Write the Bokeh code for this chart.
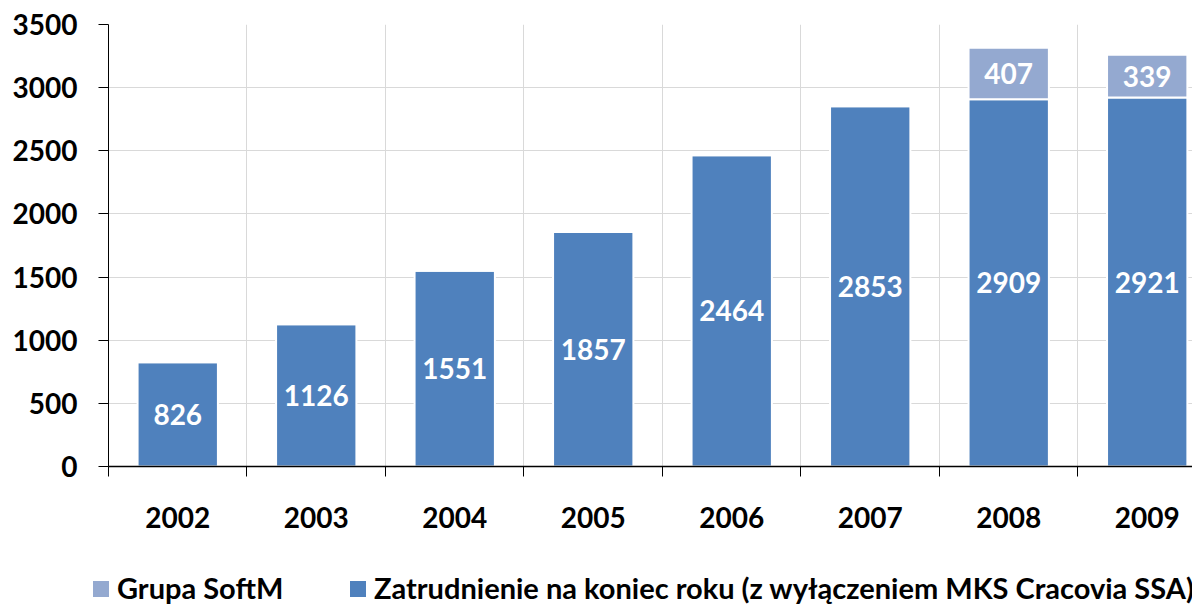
from bokeh.plotting import figure
from bokeh.layouts import column
from bokeh.models import Range1d, FixedTicker, ColumnDataSource, Div
from bokeh.core.properties import value
from bokeh.embed import file_html
from bokeh.resources import INLINE

years = ["2002", "2003", "2004", "2005", "2006", "2007", "2008", "2009"]
zatrudnienie = [826, 1126, 1551, 1857, 2464, 2853, 2909, 2921]
softm = [0, 0, 0, 0, 0, 0, 407, 339]
y_ticks = [0, 500, 1000, 1500, 2000, 2500, 3000, 3500]
legend_labels = ["Grupa SoftM", "Zatrudnienie na koniec roku (z wyłączeniem MKS Cracovia SSA)"]

DARK = "#4F81BD"
LIGHT = "#94A9D0"
FONT = "Lato"
FS = "28px"

xc = [i + 0.5 for i in range(len(years))]
top_dark = zatrudnienie
top_light = [a + b for a, b in zip(zatrudnienie, softm)]

src = ColumnDataSource(dict(
    x=xc, dark=top_dark, light=top_light, softm=softm,
    mid_dark=[v / 2 for v in zatrudnienie],
    mid_light=[a + b / 2 for a, b in zip(zatrudnienie, softm)],
    lab_dark=[str(v) for v in zatrudnienie],
    lab_light=[str(v) if v else "" for v in softm],
))

p = figure(width=1192, height=536, output_backend="svg", toolbar_location=None,
           x_range=Range1d(0, 7.827), y_range=Range1d(0, 3500),
           min_border_left=108, min_border_right=0, min_border_top=24, min_border_bottom=70)
p.outline_line_color = None
p.background_fill_color = "white"

r_dark = p.vbar(x="x", bottom=0, top="dark", width=0.58, source=src,
                fill_color=DARK, line_color="white", line_width=2)
r_light = p.vbar(x="x", bottom="dark", top="light", width=0.58, source=src,
                 fill_color=LIGHT, line_color="white", line_width=2)

p.text(x="x", y="mid_dark", text="lab_dark", source=src, text_color="white",
       text_font=value(FONT), text_font_style="bold", text_font_size=FS,
       text_align="center", text_baseline="middle")
p.text(x="x", y="mid_light", text="lab_light", source=src, text_color="white",
       text_font=value(FONT), text_font_style="bold", text_font_size=FS,
       text_align="center", text_baseline="middle")

# axes
xa = p.xaxis[0]
xa.ticker = FixedTicker(ticks=xc, minor_ticks=list(range(len(years) + 1)))
xa.major_label_overrides = {x: y for x, y in zip(xc, years)}
xa.major_tick_out = 0
xa.major_tick_in = 0
xa.minor_tick_out = 10
xa.minor_tick_in = 0
xa.minor_tick_line_color = "#000000"
xa.axis_line_color = "#000000"
xa.axis_line_width = 1.5
xa.major_label_standoff = 30
xa.major_label_text_font = FONT
xa.major_label_text_font_style = "bold"
xa.major_label_text_font_size = FS
xa.major_label_text_color = "#000000"

ya = p.yaxis[0]
ya.ticker = FixedTicker(ticks=y_ticks)
ya.major_tick_out = 10
ya.major_tick_in = 0
ya.minor_tick_line_color = None
ya.axis_line_color = "#000000"
ya.major_tick_line_color = "#000000"
ya.major_label_standoff = 21
ya.major_label_text_font = FONT
ya.major_label_text_font_style = "bold"
ya.major_label_text_font_size = FS
ya.major_label_text_color = "#000000"

p.xgrid[0].ticker = FixedTicker(ticks=list(range(1, len(years) + 1)))
p.xgrid[0].grid_line_color = "#D9D9D9"
p.ygrid[0].ticker = FixedTicker(ticks=y_ticks[1:])
p.ygrid[0].grid_line_color = "#D9D9D9"

# legend (HTML strip below the chart)
def swatch(left, color):
    return (f'<div style="position:absolute;left:{left}px;top:45px;width:16px;height:16px;'
            f'background:{color}"></div>')

def label(left, txt):
    return (f'<div style="position:absolute;left:{left}px;top:37px;line-height:30px;'
            f'white-space:nowrap">{txt}</div>')

html = (f'<div style="position:relative;width:1192px;height:68px;overflow:hidden;'
        f'font-family:{FONT};font-weight:bold;font-size:29px;color:#000">'
        + swatch(93, LIGHT) + label(117, legend_labels[0])
        + swatch(350, DARK) + label(374, legend_labels[1])
        + '</div>')
lg = Div(text=html, width=1192, height=68, margin=0)

layout = column(p, lg, spacing=0)
open("out.html", "w").write(file_html(layout, INLINE))
